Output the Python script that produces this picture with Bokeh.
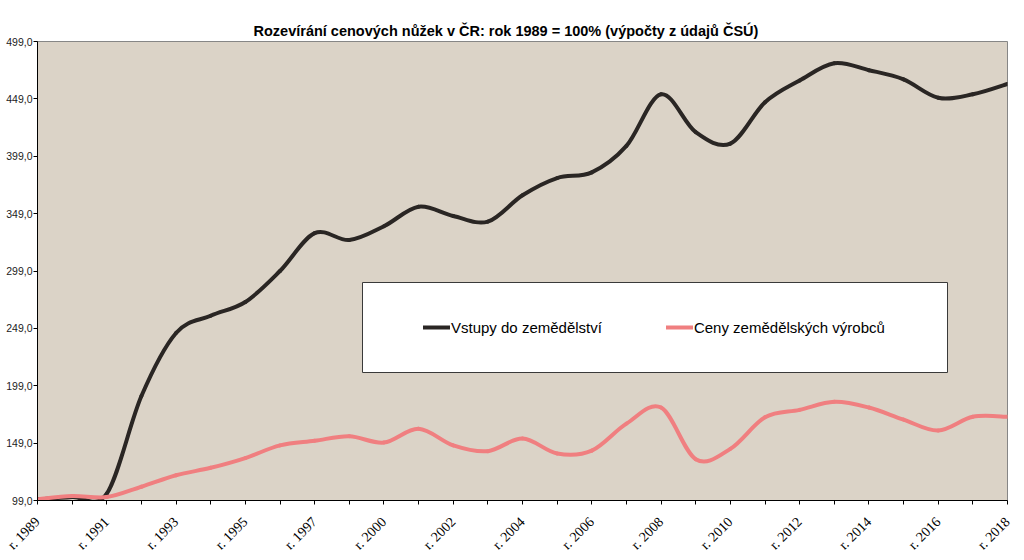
import numpy as np
from bokeh.plotting import figure
from bokeh.models import (FixedTicker, Legend, LegendItem, BoxAnnotation,
                          ColumnDataSource)
from bokeh.embed import file_html
from bokeh.resources import INLINE

chart_title = "Rozevírání cenových nůžek v ČR: rok 1989 = 100% (výpočty z údajů ČSÚ)"
years = ["1989", "1990", "1991", "1992", "1993", "1994", "1995", "1996", "1997",
         "1999", "2000", "2001", "2002", "2003", "2004", "2005", "2006", "2007",
         "2008", "2009", "2010", "2011", "2012", "2013", "2014", "2015", "2016",
         "2017", "2018"]
series_names = ["Vstupy do zemědělství", "Ceny zemědělských výrobců"]
vstupy = [100, 102, 105, 190, 245, 260, 272, 299, 332, 326, 338, 355, 347, 342,
          365, 380, 385, 408, 453, 420, 410, 446, 465, 480, 474, 466, 450, 453, 462]
ceny = [100, 103, 102, 111, 121, 127.5, 136, 147, 151, 155, 149.5, 161.5, 147, 142,
        153, 140, 142.5, 166, 180, 135, 144, 171.5, 178, 185, 180, 169.5, 160, 172, 172]
y_ticks = [99, 149, 199, 249, 299, 349, 399, 449, 499]
y_tick_labels = ["99,0", "149,0", "199,0", "249,0", "299,0", "349,0", "399,0", "449,0", "499,0"]
colors = ["#2a2624", "#f07f80"]

n = len(years)


def smooth_source(vals):
    """Bezier segments through the data points (Excel-style smoothed line)."""
    y = np.asarray(vals, dtype=float)
    x = np.arange(len(y), dtype=float)
    i = np.arange(len(y) - 1)
    i0 = np.maximum(i - 1, 0)
    i3 = np.minimum(i + 2, len(y) - 1)
    return ColumnDataSource(dict(
        x0=x[i], y0=y[i], x1=x[i + 1], y1=y[i + 1],
        cx0=x[i] + (x[i + 1] - x[i0]) / 6.0,
        cy0=y[i] + (y[i + 1] - y[i0]) / 6.0,
        cx1=x[i + 1] - (x[i3] - x[i]) / 6.0,
        cy1=y[i + 1] - (y[i3] - y[i]) / 6.0,
    ))


p = figure(width=1024, height=560,
           x_range=(0, n - 1), y_range=(y_ticks[0], y_ticks[-1]),
           output_backend="svg", toolbar_location=None,
           min_border_left=37, min_border_right=17, min_border_top=41,
           min_border_bottom=60,
           background_fill_color="#dbd3c7", border_fill_color="white",
           outline_line_color="#868686", outline_line_width=1)

p.title.text = chart_title
p.title.align = "left"
p.title.offset = 216
p.title.text_font = "Liberation Sans"
p.title.text_font_size = "14.5px"
p.title.text_font_style = "bold"
p.title.text_color = "black"
p.title.standoff = 5

p.xgrid.visible = False
p.ygrid.visible = False

renderers = []
for vals, col in zip([vstupy, ceny], colors):
    r = p.bezier(x0="x0", y0="y0", x1="x1", y1="y1", cx0="cx0", cy0="cy0",
                 cx1="cx1", cy1="cy1", source=smooth_source(vals),
                 line_color=col, line_width=4, line_cap="round")
    renderers.append(r)

# x axis
even = [i for i in range(n) if i % 2 == 0]
odd = [i for i in range(n) if i % 2 == 1]
p.xaxis.ticker = FixedTicker(ticks=even, minor_ticks=odd)
p.xaxis.major_label_overrides = {i: "r. " + years[i] for i in even}
p.xaxis.major_label_orientation = np.pi / 4
p.xaxis.major_label_text_font = "Liberation Serif"
p.xaxis.major_label_text_font_size = "14px"
p.xaxis.major_label_text_color = "black"
p.xaxis.major_label_standoff = 15
p.xaxis.minor_tick_in = 0
p.xaxis.minor_tick_out = 4
p.xaxis.minor_tick_line_color = "black"

# y axis
p.yaxis.ticker = FixedTicker(ticks=y_ticks)
p.yaxis.major_label_overrides = dict(zip(y_ticks, y_tick_labels))
p.yaxis.major_label_text_font = "Liberation Sans"
p.yaxis.major_label_text_font_size = "10.5px"
p.yaxis.major_label_text_color = "#222222"
p.yaxis.major_label_standoff = 1
p.yaxis.minor_tick_line_color = None

for ax in (p.xaxis, p.yaxis):
    ax.axis_line_color = "black"
    ax.major_tick_line_color = "black"
    ax.major_tick_in = 0
    ax.major_tick_out = 4

box = BoxAnnotation(left=325, right=910, top=218, bottom=128,
                    left_units="screen", right_units="screen",
                    top_units="screen", bottom_units="screen",
                    fill_color="white", fill_alpha=1.0,
                    line_color="#3a3a3a", line_width=1, line_alpha=1.0)
p.add_layout(box)

legend = Legend(items=[LegendItem(label=series_names[k], renderers=[renderers[k]])
                       for k in range(2)],
                orientation="horizontal", location=(386, 163),
                padding=0, margin=0, spacing=64,
                glyph_width=27, glyph_height=20, label_standoff=1, label_width=150,
                label_text_font="Liberation Sans", label_text_font_size="15px",
                label_text_color="black",
                border_line_color=None, background_fill_alpha=0)
p.add_layout(legend)

open("out.html", "w").write(file_html(p, INLINE))
